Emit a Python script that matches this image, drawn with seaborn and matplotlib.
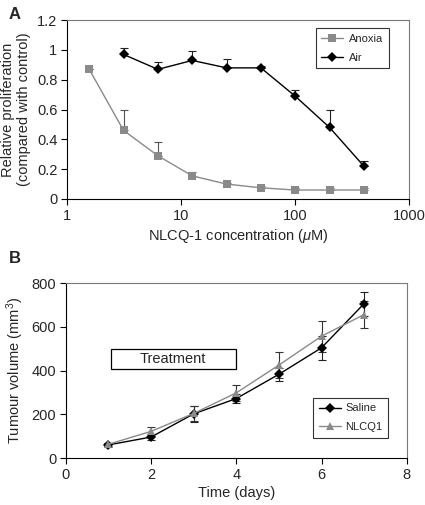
import numpy as np
import pandas as pd
import matplotlib
matplotlib.use('Agg')
import matplotlib.pyplot as plt
from matplotlib.patches import Rectangle
from matplotlib.ticker import FuncFormatter, NullLocator
import seaborn as sns

# Panel A: proliferation vs NLCQ-1 concentration
conc_anoxia = [1.5625, 3.125, 6.25, 12.5, 25, 50, 100, 200, 400]
prolif_anoxia = [0.87, 0.46, 0.29, 0.155, 0.10, 0.075, 0.06, 0.06, 0.06]
err_anoxia = [0.0, 0.14, 0.09, 0.028, 0.008, 0.015, 0.015, 0.015, 0.015]

conc_air = [3.125, 6.25, 12.5, 25, 50, 100, 200, 400]
prolif_air = [0.97, 0.87, 0.93, 0.88, 0.88, 0.69, 0.48, 0.22]
err_air = [0.045, 0.05, 0.06, 0.06, 0.012, 0.04, 0.115, 0.035]

# Panel B: tumour volume over time
days = [1, 2, 3, 4, 5, 6, 7]
vol_saline = [60, 96, 202, 272, 383, 504, 706]
err_saline = [8, 12, 36, 20, 30, 56, 55]
vol_nlcq1 = [63, 122, 204, 298, 425, 557, 656]
err_nlcq1 = [8, 20, 34, 38, 60, 70, 60]

sns.set_style("white")
plt.rcParams['font.family'] = ['Liberation Sans', 'DejaVu Sans']
plt.rcParams['mathtext.fontset'] = 'custom'
plt.rcParams['mathtext.it'] = 'Liberation Sans:italic'
plt.rcParams['mathtext.rm'] = 'Liberation Sans'

fig = plt.figure(figsize=(4.25, 5.05), dpi=100)
ax_a = fig.add_axes([0.158, 0.606, 0.805, 0.354])
ax_b = fig.add_axes([0.155, 0.093, 0.802, 0.3465])

gray = '#8a8a8a'
marker_sz = {'Anoxia': 5.5, 'Air': 5, 'Saline': 5.5, 'NLCQ1': 6}


def style_legend(leg):
    leg.get_frame().set_linewidth(0.8)
    for h, t in zip(leg.legend_handles, leg.get_texts()):
        h.set_markersize(marker_sz[t.get_text()])
        h.set_markeredgewidth(0)
        h.set_linewidth(1.0)


df_a = pd.concat([
    pd.DataFrame({'conc': conc_anoxia, 'prolif': prolif_anoxia, 'cond': 'Anoxia'}),
    pd.DataFrame({'conc': conc_air, 'prolif': prolif_air, 'cond': 'Air'}),
])

ax_a.errorbar(conc_anoxia, prolif_anoxia, yerr=[np.zeros(len(err_anoxia)), err_anoxia],
              fmt='none', ecolor='#555555', elinewidth=0.8, capsize=3, capthick=0.8, zorder=2)
ax_a.errorbar(conc_air, prolif_air, yerr=[np.zeros(len(err_air)), err_air],
              fmt='none', ecolor='#222222', elinewidth=0.8, capsize=3, capthick=0.8, zorder=2)
sns.lineplot(data=df_a, x='conc', y='prolif', hue='cond', style='cond',
             hue_order=['Anoxia', 'Air'], palette={'Anoxia': gray, 'Air': 'black'},
             markers={'Anoxia': 's', 'Air': 'D'}, dashes=False,
             markeredgewidth=0, linewidth=1.0, ax=ax_a, zorder=3)
for ln in ax_a.get_lines():
    if ln.get_marker() == 's':
        ln.set_markersize(marker_sz['Anoxia'])
    elif ln.get_marker() == 'D':
        ln.set_markersize(marker_sz['Air'])

ax_a.set_xscale('log')
ax_a.set_xlim(1, 1000)
ax_a.set_ylim(0, 1.2)
ax_a.set_xticks([1, 10, 100, 1000])
ax_a.xaxis.set_major_formatter(FuncFormatter(lambda v, p: '%g' % v))
ax_a.xaxis.set_minor_locator(NullLocator())
ax_a.set_yticks([0, 0.2, 0.4, 0.6, 0.8, 1.0, 1.2])
ax_a.yaxis.set_major_formatter(FuncFormatter(lambda v, p: '%g' % round(v, 1)))
ax_a.set_xlabel(r'NLCQ-1 concentration ($\mu$M)', fontsize=10.5, labelpad=3)
ax_a.set_ylabel('Relative proliferation\n(compared with control)', fontsize=10.5, labelpad=4)
leg_a = ax_a.legend(loc='upper right', bbox_to_anchor=(0.94, 0.955), fontsize=8,
                    frameon=True, fancybox=False, edgecolor='black', handlelength=2.0,
                    handletextpad=0.5, borderpad=0.5, labelspacing=0.8, borderaxespad=0)
style_legend(leg_a)

df_b = pd.concat([
    pd.DataFrame({'day': days, 'vol': vol_saline, 'grp': 'Saline'}),
    pd.DataFrame({'day': days, 'vol': vol_nlcq1, 'grp': 'NLCQ1'}),
])

ax_b.errorbar(days, vol_saline, yerr=err_saline, fmt='none', ecolor='#222222',
              elinewidth=0.8, capsize=3, capthick=0.8, zorder=2)
ax_b.errorbar(days, vol_nlcq1, yerr=err_nlcq1, fmt='none', ecolor='#333333',
              elinewidth=0.8, capsize=3, capthick=0.8, zorder=2)
sns.lineplot(data=df_b, x='day', y='vol', hue='grp', style='grp',
             hue_order=['Saline', 'NLCQ1'], palette={'Saline': 'black', 'NLCQ1': gray},
             markers={'Saline': 'D', 'NLCQ1': '^'}, dashes=False,
             markeredgewidth=0, linewidth=1.0, ax=ax_b, zorder=3)
for ln in ax_b.get_lines():
    if ln.get_marker() == 'D':
        ln.set_markersize(marker_sz['Saline'])
    elif ln.get_marker() == '^':
        ln.set_markersize(marker_sz['NLCQ1'])

ax_b.set_xlim(0, 8)
ax_b.set_ylim(0, 800)
ax_b.set_xticks([0, 2, 4, 6, 8])
ax_b.set_yticks([0, 200, 400, 600, 800])
ax_b.set_xlabel('Time (days)', fontsize=10.5, labelpad=3)
ax_b.set_ylabel('Tumour volume (mm$^3$)', fontsize=10.5, labelpad=4)
leg_b = ax_b.legend(loc='lower right', bbox_to_anchor=(0.945, 0.115), fontsize=8,
                    frameon=True, fancybox=False, edgecolor='black', handlelength=2.0,
                    handletextpad=0.4, borderpad=0.5, labelspacing=0.8, borderaxespad=0)
style_legend(leg_b)

ax_b.add_patch(Rectangle((1.05, 405), 2.95, 95, facecolor='white', edgecolor='black',
                         linewidth=0.9, zorder=1))
ax_b.text(2.52, 452, 'Treatment', ha='center', va='center', fontsize=10.5, zorder=2)

for ax in (ax_a, ax_b):
    ax.tick_params(axis='both', which='major', direction='out', length=4, width=0.8,
                   labelsize=10.5, color='black', pad=3, left=True, bottom=True)
    for side in ('left', 'bottom'):
        ax.spines[side].set_color('black')
        ax.spines[side].set_linewidth(0.8)
    for side in ('top', 'right'):
        ax.spines[side].set_color('#7a7a7a')
        ax.spines[side].set_linewidth(0.8)

fig.text(0.02, 0.972, 'A', fontsize=12, fontweight='bold', ha='left', va='center')
fig.text(0.02, 0.488, 'B', fontsize=12, fontweight='bold', ha='left', va='center')

fig.savefig('out.png', dpi=100)
